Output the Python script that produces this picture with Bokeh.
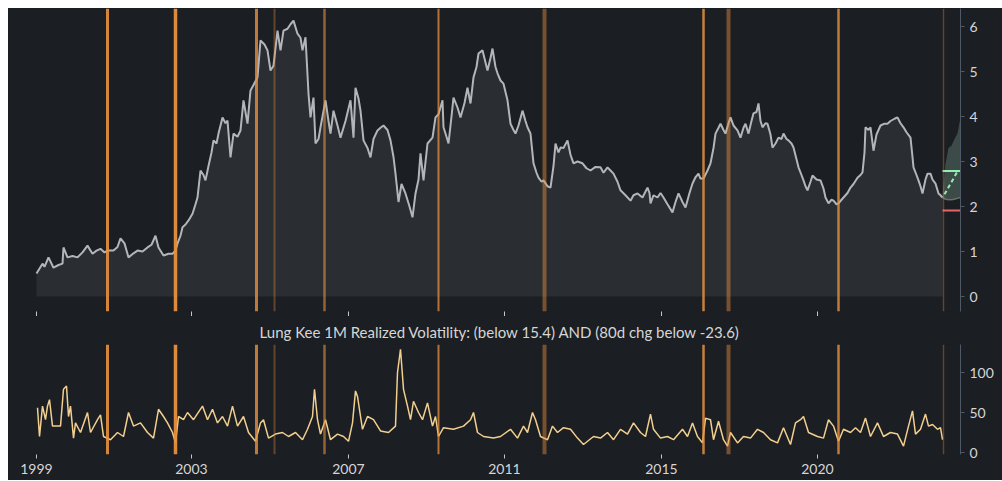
from bokeh.plotting import figure
from bokeh.layouts import column
from bokeh.models import Range1d, FixedTicker, ColumnDataSource
from bokeh.embed import file_html
from bokeh.resources import INLINE

# ---------------- data ----------------
# x is a bar index (1999 = 0)
tick_t = [0, 155, 312, 468, 625, 781]
tick_labels = ["1999", "2003", "2007", "2011", "2015", "2020"]

price_t = [0, 6, 8, 12, 17, 22, 26, 27, 31, 36, 41, 46, 51, 56, 60, 64, 68, 71, 77, 81,
           84, 88, 92, 97, 101, 106, 111, 115, 119, 122, 127, 132, 136, 139, 141, 144, 146, 149, 152, 156,
           159, 161, 164, 167, 169, 172, 175, 177, 180, 182, 186, 189, 191, 194, 197, 201, 204, 207, 211, 214,
           217, 221, 224, 228, 231, 234, 237, 241, 244, 247, 251, 254, 257, 261, 264, 266, 269, 272, 274, 277,
           279, 282, 284, 289, 292, 294, 297, 301, 304, 309, 314, 317, 319, 322, 324, 327, 331, 334, 337, 341,
           344, 347, 351, 354, 357, 359, 362, 365, 369, 373, 376, 379, 382, 384, 387, 391, 396, 399, 402, 406,
           407, 410, 412, 415, 417, 421, 424, 428, 431, 434, 437, 440, 442, 446, 449, 451, 454, 456, 459, 461,
           464, 467, 471, 474, 477, 479, 482, 486, 489, 491, 494, 497, 500, 502, 505, 507, 511, 514, 517, 519,
           522, 524, 527, 531, 534, 537, 541, 546, 550, 554, 559, 564, 567, 571, 574, 577, 581, 584, 589, 594,
           597, 601, 606, 611, 613, 614, 617, 621, 624, 627, 631, 636, 639, 642, 646, 649, 653, 656, 659, 662,
           664, 667, 671, 674, 677, 679, 682, 684, 687, 689, 692, 694, 697, 701, 704, 707, 709, 712, 715, 717,
           720, 722, 724, 726, 729, 731, 734, 736, 739, 742, 745, 747, 750, 752, 755, 757, 760, 762, 765, 767,
           769, 771, 774, 776, 780, 784, 787, 789, 792, 795, 797, 800, 802, 805, 807, 811, 814, 817, 821, 824,
           826, 828, 829, 832, 834, 837, 840, 844, 848, 851, 854, 858, 861, 864, 867, 870, 874, 876, 877, 880,
           882, 884, 886, 889, 891, 894, 896, 899, 902, 904, 906]
price_v = [0.51, 0.73, 0.66, 0.87, 0.64, 0.70, 0.73, 1.09, 0.87, 0.90, 0.87, 0.98, 1.13, 0.95, 1.02, 1.06, 0.98, 1.02, 1.02, 1.10,
           1.29, 1.18, 0.87, 0.96, 1.02, 1.00, 1.09, 1.15, 1.35, 1.09, 0.91, 0.95, 0.95, 1.02, 1.18, 1.35, 1.54, 1.60, 1.69, 1.84,
           2.05, 2.20, 2.80, 2.70, 2.58, 2.90, 3.20, 3.47, 3.40, 3.62, 3.98, 3.85, 3.91, 3.09, 3.62, 3.55, 3.69, 4.36, 3.84, 4.58,
           4.70, 4.87, 5.69, 5.60, 5.47, 5.02, 5.13, 5.91, 5.47, 5.91, 5.95, 6.05, 6.13, 5.84, 5.75, 5.47, 5.76, 4.51, 3.98, 4.42,
           3.40, 3.50, 3.76, 4.36, 3.90, 3.62, 4.13, 3.80, 3.53, 3.90, 4.36, 3.53, 4.64, 4.40, 4.13, 3.47, 3.30, 3.09, 3.50, 3.69,
           3.75, 3.80, 3.70, 3.47, 3.10, 2.73, 2.10, 2.50, 2.29, 2.00, 1.76, 2.29, 2.60, 3.18, 2.58, 3.40, 3.53, 3.98, 4.05, 4.36,
           3.76, 3.55, 3.40, 4.00, 4.42, 4.20, 3.98, 4.30, 4.64, 4.29, 4.87, 5.10, 5.40, 5.47, 5.20, 5.02, 5.30, 5.51, 5.10, 4.96,
           4.80, 4.73, 4.36, 3.84, 3.70, 3.62, 3.80, 4.13, 3.90, 3.76, 3.62, 2.96, 2.75, 2.64, 2.55, 2.58, 2.45, 2.42, 2.90, 3.40,
           3.20, 3.31, 3.30, 3.47, 3.15, 2.96, 3.00, 2.96, 2.85, 2.80, 2.88, 2.87, 2.75, 2.87, 2.80, 2.73, 2.55, 2.36, 2.25, 2.13,
           2.25, 2.29, 2.20, 2.42, 2.30, 2.07, 2.25, 2.20, 2.30, 2.20, 2.05, 1.87, 2.10, 2.29, 2.10, 1.98, 2.30, 2.51, 2.65, 2.73,
           2.62, 2.62, 2.80, 2.96, 3.30, 3.62, 3.75, 3.84, 3.70, 3.62, 3.85, 3.98, 3.80, 3.69, 3.53, 3.75, 3.84, 3.62, 3.90, 4.07,
           4.10, 4.29, 3.90, 3.76, 3.85, 3.84, 3.60, 3.31, 3.40, 3.53, 3.50, 3.62, 3.50, 3.47, 3.40, 3.31, 3.05, 2.87, 2.70, 2.58,
           2.45, 2.36, 2.55, 2.69, 2.60, 2.58, 2.40, 2.20, 2.07, 2.15, 2.13, 2.05, 2.07, 2.15, 2.20, 2.30, 2.42, 2.50, 2.64, 2.70,
           2.76, 3.20, 3.76, 3.70, 3.76, 3.24, 3.60, 3.80, 3.84, 3.84, 3.90, 3.95, 3.98, 3.85, 3.76, 3.65, 3.53, 3.10, 2.87, 2.70,
           2.58, 2.45, 2.29, 2.60, 2.73, 2.73, 2.60, 2.51, 2.29, 2.25, 2.20]

vol_t = [1, 3, 6, 9, 11, 13, 16, 19, 24, 27, 30, 32, 34, 37, 39, 44, 51, 54, 61, 64,
         67, 74, 81, 87, 92, 97, 104, 111, 117, 122, 127, 131, 136, 139, 142, 147, 151, 157, 166, 171,
         176, 181, 186, 191, 196, 201, 207, 212, 219, 224, 227, 232, 239, 246, 252, 259, 266, 271, 276, 278,
         281, 284, 289, 294, 301, 307, 312, 316, 319, 321, 326, 331, 337, 344, 352, 359, 361, 364, 367, 371,
         374, 377, 382, 386, 391, 396, 399, 402, 407, 417, 427, 434, 437, 441, 447, 457, 464, 474, 481, 487,
         491, 496, 499, 504, 511, 516, 521, 527, 534, 541, 547, 557, 564, 571, 577, 584, 591, 597, 604, 609,
         614, 617, 624, 631, 637, 646, 651, 656, 661, 666, 669, 674, 677, 682, 687, 691, 694, 701, 707, 714,
         721, 727, 734, 741, 747, 754, 759, 764, 767, 772, 781, 787, 792, 797, 802, 807, 814, 819, 824, 829,
         834, 841, 847, 854, 861, 867, 872, 876, 879, 884, 889, 892, 896, 901, 904, 906]
vol_v = [56, 20, 58, 41, 58, 66, 33, 33, 33, 79, 83, 45, 58, 18, 37, 25, 50, 25, 41, 47,
         20, 16, 25, 20, 50, 33, 37, 25, 18, 54, 45, 37, 25, 12, 45, 41, 50, 41, 58, 41,
         54, 37, 45, 33, 58, 33, 45, 25, 14, 37, 41, 18, 23, 25, 20, 25, 16, 29, 45, 79,
         41, 23, 41, 16, 23, 20, 14, 37, 77, 70, 29, 45, 41, 27, 25, 33, 100, 129, 79, 58,
         41, 64, 50, 41, 62, 33, 45, 20, 31, 29, 33, 41, 50, 25, 20, 18, 20, 29, 18, 33,
         25, 50, 41, 20, 16, 33, 25, 31, 29, 18, 10, 20, 18, 25, 16, 29, 23, 37, 25, 20,
         48, 29, 18, 20, 16, 29, 20, 37, 20, 12, 43, 41, 16, 39, 16, 8, 25, 12, 20, 18,
         29, 25, 16, 12, 31, 10, 37, 41, 45, 25, 20, 18, 41, 33, 14, 29, 25, 31, 25, 43,
         20, 37, 20, 25, 23, 8, 33, 52, 23, 29, 48, 33, 35, 29, 31, 16]

# signal dates (bar index)
sig_t = [71, 139, 220, 238, 288, 402, 508, 667, 692, 802, 907]

# forecast fan after the last bar
fan_t = [906, 909, 912, 915, 918, 921, 924]
fan_hi = [2.25, 2.95, 3.30, 3.35, 3.50, 3.62, 3.98]
fan_lo = [2.20, 2.16, 2.15, 2.15, 2.16, 2.18, 2.20]
target_up = 2.79
target_down = 1.91
path_t = [908, 921]
path_v = [2.27, 2.78]

# ---------------- styles ----------------
sig_width = [3, 3.5, 3, 2, 2.5, 2, 4, 2.5, 4, 2.5, 1.5]
sig_alpha = [0.9, 0.95, 0.8, 0.35, 0.6, 0.75, 0.45, 0.85, 0.45, 0.8, 0.35]

BG = "#1b1e23"
FONT = "Lato"
TXT = "#d6d6d6"
AXC = "#4f5965"
SIG = "#e8903f"

assert len(price_t) == len(price_v)
assert len(vol_t) == len(vol_v)

x_range = Range1d(-28, 924)


def style(p):
    p.background_fill_color = BG
    p.border_fill_color = BG
    p.outline_line_color = None
    p.grid.visible = False
    for ax in p.yaxis:
        ax.axis_line_color = AXC
        ax.major_tick_line_color = AXC
        ax.major_tick_out = 4
        ax.major_tick_in = 0
        ax.minor_tick_line_color = None
        ax.major_label_text_color = TXT
        ax.major_label_text_font = FONT
        ax.major_label_text_font_size = "14px"
        ax.major_label_standoff = 5
    for ax in p.xaxis:
        ax.ticker = FixedTicker(ticks=tick_t)
        ax.axis_line_color = None
        ax.major_tick_line_color = "#c4c7ca"
        ax.major_tick_in = 0
        ax.minor_tick_line_color = None
        ax.major_label_text_color = TXT
        ax.major_label_text_font = FONT
        ax.major_label_text_font_size = "14px"


# ---------------- top panel ----------------
p1 = figure(frame_width=952, frame_height=303, x_range=x_range, y_range=Range1d(-1 / 3, 6.4),
            y_axis_location="right", output_backend="svg", toolbar_location=None,
            min_border_left=0, min_border_right=42, min_border_top=0, min_border_bottom=5)
style(p1)
p1.yaxis.ticker = FixedTicker(ticks=[0, 1, 2, 3, 4, 5, 6])
p1.xaxis.major_tick_out = 5
p1.xaxis.major_label_overrides = {t: "" for t in tick_t}
p1.xaxis.major_label_standoff = 0

p1.varea(x=price_t, y1=0, y2=price_v, fill_color="#2a2d32")
p1.line(price_t, price_v, line_color="#b3b6b9", line_width=2)

p1.varea(x=fan_t, y1=fan_lo, y2=fan_hi, fill_color="#8fb5a0", fill_alpha=0.3)
p1.line(fan_t, fan_lo, line_color="#8a9690", line_width=1.5, line_alpha=0.6)
p1.segment(x0=[fan_t[0]], x1=[fan_t[-1]], y0=[target_up], y1=[target_up], line_color="#8ef0b0", line_width=2)
p1.segment(x0=[fan_t[0]], x1=[fan_t[-1]], y0=[target_down], y1=[target_down], line_color="#e86464", line_width=2)
p1.line(path_t, path_v, line_color="#8ef0b0", line_width=2, line_dash="4 3")

src1 = ColumnDataSource(dict(x=sig_t, w=sig_width, a=sig_alpha,
                             y0=[p1.y_range.start] * len(sig_t), y1=[p1.y_range.end] * len(sig_t)))
p1.segment(x0="x", x1="x", y0="y0", y1="y1", line_width="w", line_alpha="a", line_color=SIG, source=src1)

# ---------------- bottom panel ----------------
p2 = figure(frame_width=952, frame_height=110, x_range=x_range, y_range=Range1d(-2.5, 135),
            y_axis_location="right", output_backend="svg", toolbar_location=None,
            title="Lung Kee 1M Realized Volatility: (below 15.4) AND (80d chg below -23.6)",
            min_border_left=0, min_border_right=42, min_border_top=26, min_border_bottom=26)
style(p2)
p2.yaxis.ticker = FixedTicker(ticks=[0, 50, 100])
p2.xaxis.major_label_overrides = {t: lab for t, lab in zip(tick_t, tick_labels)}
p2.xaxis.major_tick_out = 4
p2.xaxis.major_label_standoff = 5
p2.title.align = "left"
p2.title.offset = 251
p2.title.standoff = 8
p2.title.text_font = FONT
p2.title.text_font_size = "15px"
p2.title.text_font_style = "normal"
p2.title.text_color = TXT

p2.line(vol_t, vol_v, line_color="#f2cf8f", line_width=1.5)
src2 = ColumnDataSource(dict(x=sig_t, w=sig_width, a=sig_alpha,
                             y0=[p2.y_range.start] * len(sig_t), y1=[p2.y_range.end] * len(sig_t)))
p2.segment(x0="x", x1="x", y0="y0", y1="y1", line_width="w", line_alpha="a", line_color=SIG, source=src2)

layout = column(p1, p2, spacing=0, margin=(8, 0, 0, 8), styles={"background-color": BG})
open("out.html", "w").write(file_html(layout, INLINE))
